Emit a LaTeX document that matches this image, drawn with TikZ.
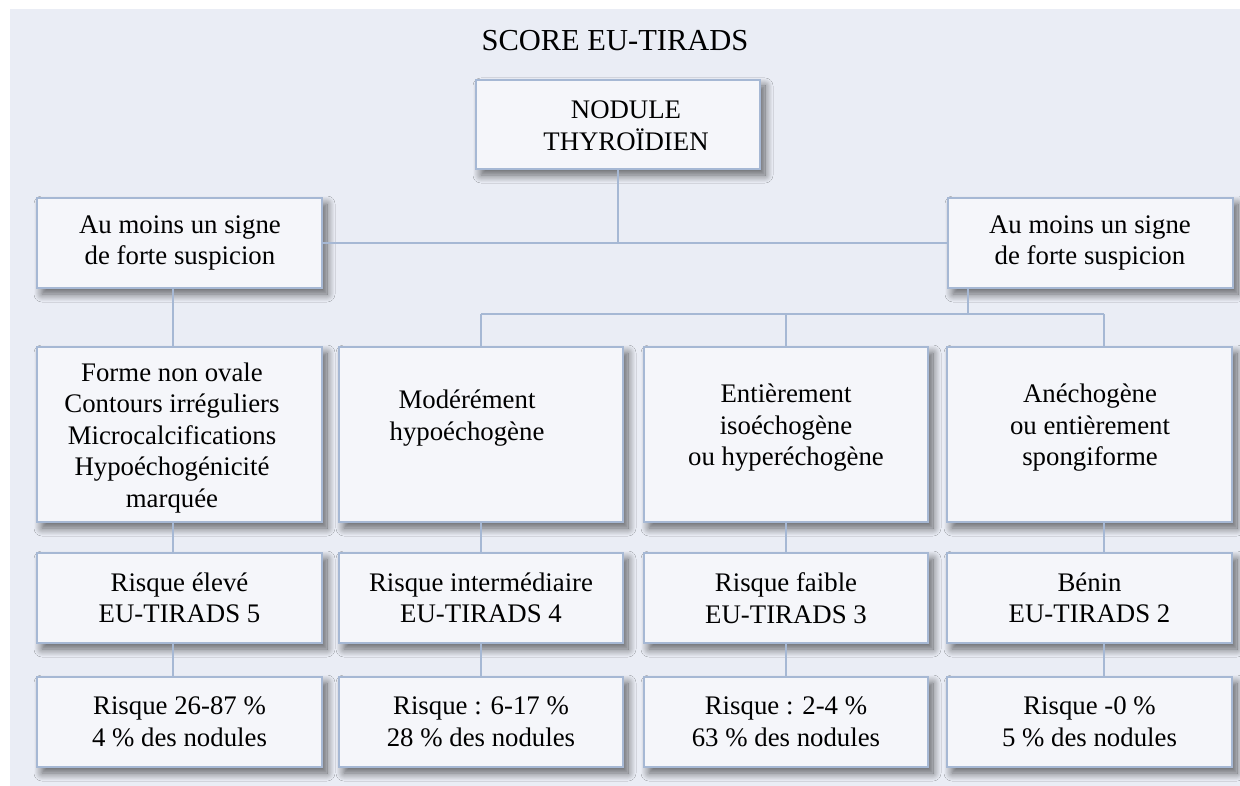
\documentclass[tikz,border=0pt]{standalone}
\usepackage{fontspec}
\setmainfont{Liberation Serif}
\usetikzlibrary{shadows.blur}
\definecolor{bgpanel}{HTML}{EAEDF5}
\definecolor{boxfill}{HTML}{F5F6FA}
\definecolor{edgecol}{HTML}{A6B8D4}
\tikzset{
  box/.style={draw=edgecol, fill=boxfill, line width=1.4pt, rectangle, inner sep=0pt, outer sep=0pt,
    blur shadow={shadow xshift=5pt, shadow yshift=-6pt, shadow blur radius=8pt, shadow blur steps=14, shadow opacity=60}},
  wire/.style={draw=edgecol, line width=1.4pt},
  txt/.style={align=center, inner sep=0pt, font=\fontsize{26.8}{31.5}\selectfont},
}
\begin{document}
\begin{tikzpicture}[x=1pt,y=-1pt]
\useasboundingbox (0,0) rectangle (1240,786);
\fill[bgpanel] (10,9) rectangle (1240,786);

% title
\node[inner sep=0pt, font=\fontsize{30.5}{36}\selectfont] (title) at (615,40.5) {SCORE EU-TIRADS};

% junction coordinates
\coordinate (jt) at (618,243);
\coordinate (jr) at (968,314);
\coordinate (j2) at (481,314);
\coordinate (j3) at (786,314);
\coordinate (j4) at (1104,314);

% boxes
\node[box, minimum width=284pt, minimum height=89pt] (nod) at (618,124.5) {};
\node[box, minimum width=285pt, minimum height=90pt] (l0) at (179.5,243) {};
\node[box, minimum width=285pt, minimum height=90pt] (r0) at (1090.5,243) {};

\node[box, minimum width=285pt, minimum height=175pt] (a2) at (179.5,434.5) {};
\node[box, minimum width=284pt, minimum height=175pt] (b2) at (481,434.5) {};
\node[box, minimum width=284pt, minimum height=175pt] (c2) at (786,434.5) {};
\node[box, minimum width=285pt, minimum height=175pt] (d2) at (1089.5,434.5) {};

\node[box, minimum width=285pt, minimum height=90pt] (a3) at (179.5,598) {};
\node[box, minimum width=284pt, minimum height=90pt] (b3) at (481,598) {};
\node[box, minimum width=284pt, minimum height=90pt] (c3) at (786,598) {};
\node[box, minimum width=285pt, minimum height=90pt] (d3) at (1089.5,598) {};

\node[box, minimum width=285pt, minimum height=90pt] (a4) at (179.5,722) {};
\node[box, minimum width=284pt, minimum height=90pt] (b4) at (481,722) {};
\node[box, minimum width=284pt, minimum height=90pt] (c4) at (786,722) {};
\node[box, minimum width=285pt, minimum height=90pt] (d4) at (1089.5,722) {};

% connectors
\draw[wire] (nod.south) -- (jt);
\draw[wire] (l0.east) -- (r0.west);
\coordinate (la) at (173,0);
\draw[wire] (la |- l0.south) -- (la |- a2.north);
\draw[wire] (jr |- r0.south) -- (jr);
\draw[wire] (j2) -- (j4);
\draw[wire] (j2) -- (j2 |- b2.north);
\draw[wire] (j3) -- (j3 |- c2.north);
\draw[wire] (j4) -- (j4 |- d2.north);
\foreach \xx/\ra/\rb/\rc in {173/a2/a3/a4,481/b2/b3/b4,786/c2/c3/c4,1104/d2/d3/d4}{
  \draw[wire] (\xx,0 |- \ra.south) -- (\xx,0 |- \rb.north);
  \draw[wire] (\xx,0 |- \rb.south) -- (\xx,0 |- \rc.north);
}

% texts
\node[txt] (tnod) at (626,126) {NODULE\\THYROÏDIEN};
\node[txt] (tl0) at (180,243) {Au moins un signe\\de forte suspicion};
\node[txt] (tr0) at (1090,243) {Au moins un signe\\de forte suspicion};

\node[txt] (ta2) at (172,438) {Forme non ovale\\Contours irréguliers\\Microcalcifications\\Hypoéchogénicité\\marquée};
\node[txt] (tb2) at (467,418) {Modérément\\hypoéchogène};
\node[txt] (tc2) at (786,428) {Entièrement\\isoéchogène\\ou hyperéchogène};
\node[txt] (td2) at (1090,428) {Anéchogène\\ou entièrement\\spongiforme};

\node[txt] (ta3) at (179.5,598) {Risque élevé\\EU-TIRADS 5};
\node[txt] (tb3) at (481,598) {Risque intermédiaire\\EU-TIRADS 4};
\node[txt] (tc3) at (786,598) {Risque faible\\EU-TIRADS 3};
\node[txt] (td3) at (1089.5,598) {Bénin\\EU-TIRADS 2};

\node[txt] (ta4) at (179.5,722) {Risque 26-87~\%\\4~\% des nodules};
\node[txt] (tb4) at (481,722) {Risque : 6-17~\%\\28~\% des nodules};
\node[txt] (tc4) at (786,722) {Risque : 2-4~\%\\63~\% des nodules};
\node[txt] (td4) at (1089.5,722) {Risque -0~\%\\5~\% des nodules};
\end{tikzpicture}
\end{document}
